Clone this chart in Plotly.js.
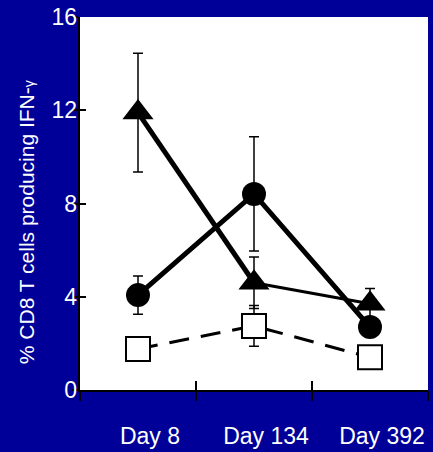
<!DOCTYPE html>
<html>
<head>
<meta charset="utf-8">
<script src="https://cdn.plot.ly/plotly-3.0.1.min.js"></script>
<style>html,body{margin:0;padding:0;background:#000099;}#chart{width:433px;height:452px;}</style>
</head>
<body>
<div id="chart"></div>
<script>
// Categories and positions on a 0..3 axis (points sit mid-interval)
const days = ['Day 8', 'Day 134', 'Day 392'];
const xPos = [0.5, 1.5, 2.5];
const boundaryTicks = [0, 1, 2, 3];
const innerTicks = [1, 2];
const yTicks = [0, 4, 8, 12, 16];
const yTitle = '% CD8 T cells producing IFN-<span style="font-size:14px">γ</span>';

// Series values (% CD8 T cells producing IFN-γ)
const triangleVals = [11.9, 4.6, 3.7];
const triangleErr  = [2.55, 1.1, 0.65];
const circleVals   = [4.07, 8.41, 2.7];
const circleErr    = [0.82, 2.45, 0];
const squareVals   = [1.76, 2.75, 1.40];
const squareErr    = [0, 0.87, 0];

const errStyle = {thickness: 1.5, width: 5, color: 'black'};

const traces = [
  {x: xPos, y: circleVals, mode: 'lines+markers', type: 'scatter',
   line: {color: 'black', width: 5},
   marker: {symbol: 'circle', size: 24, color: 'black'},
   error_y: Object.assign({type: 'data', array: circleErr, visible: true}, errStyle),
   hoverinfo: 'skip'},
  {x: xPos.slice(0, 2), y: triangleVals.slice(0, 2), mode: 'lines', type: 'scatter',
   line: {color: 'black', width: 5}, hoverinfo: 'skip'},
  {x: xPos.slice(1, 3), y: triangleVals.slice(1, 3), mode: 'lines', type: 'scatter',
   line: {color: 'black', width: 3}, hoverinfo: 'skip'},
  {x: xPos, y: triangleVals, mode: 'markers', type: 'scatter',
   marker: {symbol: 'triangle-up', size: 27, color: 'black'},
   error_y: Object.assign({type: 'data', array: triangleErr, visible: true}, errStyle),
   hoverinfo: 'skip'},
  {x: xPos, y: squareVals, mode: 'lines+markers', type: 'scatter',
   line: {color: 'black', width: 3, dash: '20px,12px'},
   marker: {symbol: 'square', size: 24, color: 'white', line: {color: 'black', width: 2}},
   error_y: Object.assign({type: 'data', array: squareErr, visible: true}, errStyle),
   hoverinfo: 'skip'},
  {x: [], y: [], xaxis: 'x2', yaxis: 'y2', type: 'scatter', mode: 'markers', hoverinfo: 'skip'},
  {x: [], y: [], xaxis: 'x3', yaxis: 'y2', type: 'scatter', mode: 'markers', hoverinfo: 'skip'}
];

const fontFam = 'Liberation Sans, Arial, sans-serif';

const layout = {
  width: 433, height: 452,
  paper_bgcolor: '#000099',
  plot_bgcolor: 'white',
  showlegend: false,
  margin: {l: 80, r: 5, t: 17, b: 62, pad: 0},
  font: {family: fontFam, color: 'white', size: 22},
  xaxis: {
    range: [0, 3], tickvals: xPos, ticktext: days, ticks: '',
    showline: true, linecolor: 'black', linewidth: 2,
    showgrid: false, zeroline: false,
    tickfont: {family: fontFam, color: 'white', size: 23},
    ticklabelshift: 12, ticklabelstandoff: 24
  },
  xaxis2: {
    overlaying: 'x', anchor: 'y', range: [0, 3], tickvals: boundaryTicks,
    ticks: 'outside', ticklen: 10, tickwidth: 2, tickcolor: 'black',
    showticklabels: false, showline: false, showgrid: false, zeroline: false
  },
  xaxis3: {
    overlaying: 'x', anchor: 'y', range: [0, 3], tickvals: innerTicks,
    ticks: 'inside', ticklen: 9, tickwidth: 2, tickcolor: 'black',
    showticklabels: false, showline: false, showgrid: false, zeroline: false
  },
  yaxis: {
    range: [0, 16], tickvals: yTicks, ticks: 'outside', ticklen: 6, tickwidth: 2,
    tickcolor: 'black', showline: true, linecolor: 'black', linewidth: 2,
    showgrid: false, zeroline: false, showticklabels: false
  },
  yaxis2: {
    overlaying: 'y', anchor: 'x', range: [0, 16], tickvals: yTicks,
    ticks: 'inside', ticklen: 6, tickwidth: 2, tickcolor: 'black',
    showticklabels: true, ticklabelstandoff: 2,
    tickfont: {family: fontFam, color: 'white', size: 23},
    showline: false, showgrid: false, zeroline: false
  },
  annotations: [{
    text: yTitle, textangle: -90, showarrow: false,
    xref: 'paper', yref: 'paper', x: -0.155, y: 0.45,
    xanchor: 'center', yanchor: 'middle',
    font: {family: fontFam, color: 'white', size: 21}
  }]
};

Plotly.newPlot('chart', traces, layout, {displayModeBar: false, staticPlot: true});
</script>
</body>
</html>
